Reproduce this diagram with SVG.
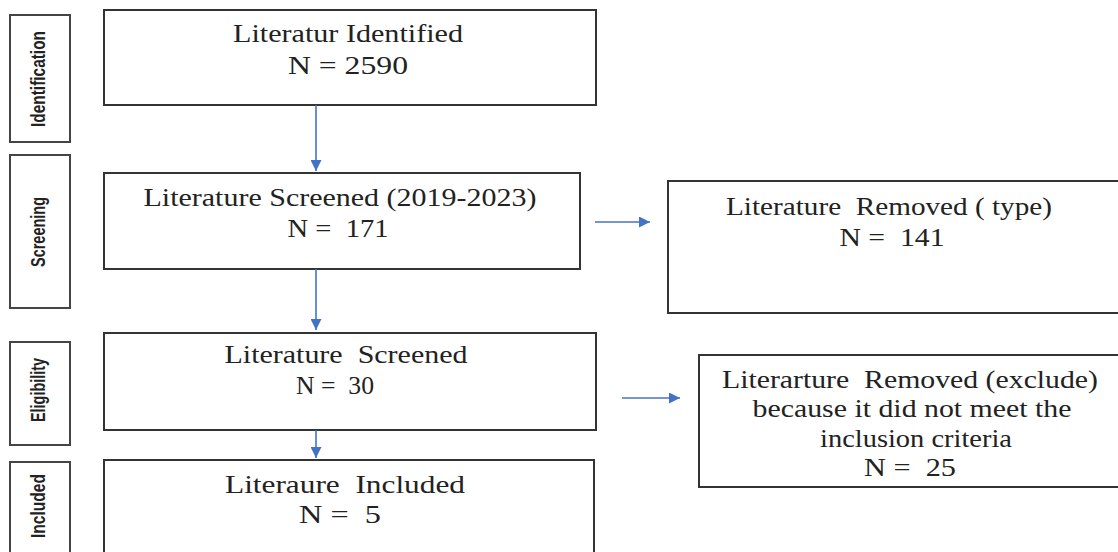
<svg xmlns="http://www.w3.org/2000/svg" width="1118" height="552" viewBox="0 0 1118 552">
<defs>
<style>
.box{fill:#fff;stroke:#333;stroke-width:2}
.lab{fill:#fff;stroke:#444;stroke-width:2}
.t{font-family:"Liberation Serif","Times New Roman",serif;font-size:25px;fill:#222;text-anchor:middle;white-space:pre}
.s{font-family:"Liberation Sans",Arial,sans-serif;font-weight:bold;font-size:20px;fill:#222;text-anchor:middle}
.c{stroke:#4472C4;stroke-width:1.6;fill:none;marker-end:url(#ah)}
</style>
<marker id="ah" viewBox="0 0 10 10" refX="10" refY="5" markerWidth="12" markerHeight="11" markerUnits="userSpaceOnUse" orient="auto">
<path d="M0,0 L10,5 L0,10 z" fill="#4472C4"/>
</marker>
</defs>
<rect width="1118" height="552" fill="#fff"/>

<g id="stage-identification">
<rect class="lab" x="10" y="15" width="60" height="127"/>
<text class="s" transform="translate(45,79) rotate(-90)" textLength="96" lengthAdjust="spacingAndGlyphs">Identification</text>
</g>
<g id="stage-screening">
<rect class="lab" x="10" y="155" width="60" height="153"/>
<text class="s" transform="translate(45,232) rotate(-90)" textLength="70" lengthAdjust="spacingAndGlyphs">Screening</text>
</g>
<g id="stage-eligibility">
<rect class="lab" x="10" y="342" width="60" height="103"/>
<text class="s" transform="translate(45,390) rotate(-90)" textLength="64" lengthAdjust="spacingAndGlyphs">Eligibility</text>
</g>
<g id="stage-included">
<rect class="lab" x="10" y="462" width="60" height="100"/>
<text class="s" transform="translate(45,506) rotate(-90)" textLength="64" lengthAdjust="spacingAndGlyphs">Included</text>
</g>

<g id="identified">
<rect class="box" x="104" y="10" width="492" height="95"/>
<text class="t" x="348" y="42" textLength="230" lengthAdjust="spacingAndGlyphs">Literatur Identified</text>
<text class="t" x="348" y="74" textLength="120" lengthAdjust="spacingAndGlyphs">N = 2590</text>
</g>
<g id="screened">
<rect class="box" x="104" y="173" width="476" height="96"/>
<text class="t" x="340" y="206" textLength="393" lengthAdjust="spacingAndGlyphs">Literature Screened (2019-2023)</text>
<text class="t" x="338" y="237" textLength="101" lengthAdjust="spacingAndGlyphs">N =  171</text>
</g>
<g id="removed-type">
<rect class="box" x="668" y="181" width="460" height="132"/>
<text class="t" x="889" y="215" textLength="326" lengthAdjust="spacingAndGlyphs">Literature  Removed ( type)</text>
<text class="t" x="892" y="246" textLength="105" lengthAdjust="spacingAndGlyphs">N =  141</text>
</g>
<g id="eligible">
<rect class="box" x="104" y="333" width="492" height="97"/>
<text class="t" x="346" y="363" textLength="243" lengthAdjust="spacingAndGlyphs">Literature  Screened</text>
<text class="t" x="335" y="394" textLength="78" lengthAdjust="spacingAndGlyphs">N =  30</text>
</g>
<g id="removed-exclude">
<rect class="box" x="699" y="355" width="429" height="132"/>
<text class="t" x="910" y="388" textLength="376" lengthAdjust="spacingAndGlyphs">Literarture  Removed (exclude)</text>
<text class="t" x="912" y="417" textLength="319" lengthAdjust="spacingAndGlyphs">because it did not meet the</text>
<text class="t" x="916" y="447" textLength="192" lengthAdjust="spacingAndGlyphs">inclusion criteria</text>
<text class="t" x="910" y="476" textLength="92" lengthAdjust="spacingAndGlyphs">N =  25</text>
</g>
<g id="included">
<rect class="box" x="104" y="460" width="490" height="110"/>
<text class="t" x="345" y="493" textLength="240" lengthAdjust="spacingAndGlyphs">Literaure  Included</text>
<text class="t" x="340" y="523" textLength="82" lengthAdjust="spacingAndGlyphs">N =  5</text>
</g>

<g id="connectors">
<path class="c" d="M316,105 V171"/>
<path class="c" d="M316,269 V330"/>
<path class="c" d="M316,430 V458"/>
<path class="c" d="M595,222 H650"/>
<path class="c" d="M622,398 H680"/>
</g>
</svg>
